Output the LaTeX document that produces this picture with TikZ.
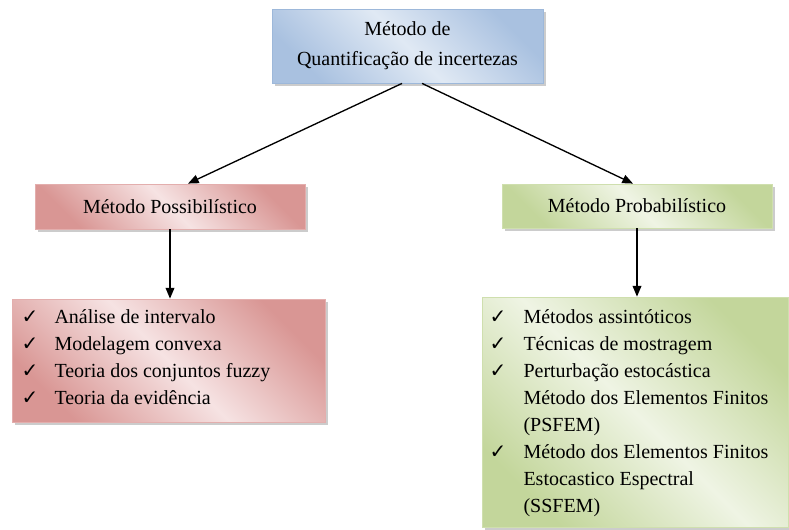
\documentclass[tikz,border=0pt]{standalone}
\usepackage{fontspec}
\setmainfont{Liberation Serif}
\newfontfamily\checkfont{DejaVu Sans}
\usetikzlibrary{arrows.meta,shadows}

\definecolor{blueDark}{HTML}{A9C1E0}
\definecolor{blueLight}{HTML}{E0E9F4}
\definecolor{blueLine}{HTML}{9DB8DA}
\definecolor{pinkDark}{HTML}{D99694}
\definecolor{pinkLight}{HTML}{F6E3E3}
\definecolor{pinkLine}{HTML}{E3AEAD}
\definecolor{greenDark}{HTML}{C3D69B}
\definecolor{greenLight}{HTML}{EFF4E4}
\definecolor{greenLine}{HTML}{CFDFAE}

\newcommand{\chk}{{\checkfont\fontsize{15}{15}\selectfont ✓}}

\tikzset{every picture/.style={line width=0.75pt}}
\tikzset{
  box/.style={rectangle, inner sep=0pt, line width=0.6pt,
    drop shadow={shadow xshift=2pt, shadow yshift=-2pt, opacity=0.4, fill=gray}},
  bluebox/.style={box, draw=blueLine, left color=blueDark, right color=blueDark, middle color=blueLight, shading angle=-45},
  pinkbox/.style={box, draw=pinkLine, left color=pinkDark, right color=pinkDark, middle color=pinkLight, shading angle=-45},
  greenbox/.style={box, draw=greenLine, left color=greenDark, right color=greenDark, middle color=greenLight, shading angle=-45},
  arrow/.style={-{Triangle[length=8pt,width=6.5pt]}, line width=1pt},
  items/.style={anchor=north west, inner sep=0pt}
}

\begin{document}
\begin{tikzpicture}[x=0.75pt,y=0.75pt,yscale=-1,xscale=1,font=\fontsize{15}{20.25}\selectfont]
\useasboundingbox (0,0) rectangle (789,529);

\node[bluebox, minimum width=203.25pt, minimum height=55.5pt, align=center, font=\fontsize{15}{22.5}\selectfont] (quant) at (407.5,46) {Método de\\Quantificação de incertezas};

\node[pinkbox, minimum width=202.5pt, minimum height=33.75pt] (poss) at (170,206.5) {Método Possibilístico};
\node[greenbox, minimum width=202.5pt, minimum height=33pt] (prob) at (637,206) {Método Probabilístico};

\node[pinkbox, minimum width=234.75pt, minimum height=92.25pt] (possList) at (168.5,360.5) {};
\node[greenbox, minimum width=229.5pt, minimum height=172.5pt] (probList) at (635,412) {};

\node[items] (possItems) at (21,304) {\begin{tabular}{@{}p{24.75pt}@{}l@{}}
\chk & Análise de intervalo\\
\chk & Modelagem convexa\\
\chk & Teoria dos conjuntos fuzzy\\
\chk & Teoria da evidência
\end{tabular}};

\node[items] (probItems) at (489,304) {\begin{tabular}{@{}p{25.5pt}@{}l@{}}
\chk & Métodos assintóticos\\
\chk & Técnicas de mostragem\\
\chk & Perturbação estocástica\\
 & Método dos Elementos Finitos\\
 & (PSFEM)\\
\chk & Método dos Elementos Finitos\\
 & Estocastico Espectral\\
 & (SSFEM)
\end{tabular}};

% arrows
\draw[arrow] ([xshift=-4.1pt]quant.south) -- ([xshift=13.5pt]poss.north);
\draw[arrow] ([xshift=10.9pt]quant.south) -- ([xshift=-3pt]prob.north);
\draw[arrow] (poss.south) -- (poss.south |- possList.north);
\draw[arrow] (prob.south) -- (prob.south |- probList.north);

\end{tikzpicture}
\end{document}
